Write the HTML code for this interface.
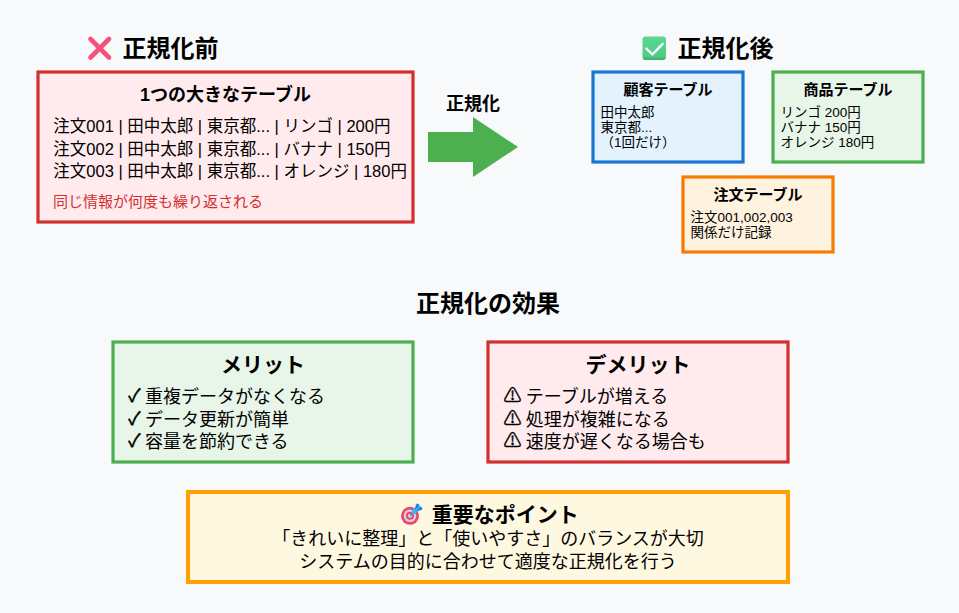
<!DOCTYPE html>
<html><head><meta charset="utf-8">
<style>
html,body{margin:0;padding:0;background:#f8f9fa;}
body{width:959px;height:613px;overflow:hidden;}
svg{display:block;font-family:"Liberation Sans","Noto Sans CJK JP",sans-serif;}
.b{font-weight:bold;}
</style></head><body>
<svg width="959" height="613" viewBox="0 0 959 613">
<rect x="0" y="0" width="959" height="613" fill="#f8f9fa"/>

<!-- X icon -->
<g stroke="#f3527e" stroke-width="4.6" stroke-linecap="round">
<line x1="90.5" y1="39" x2="109" y2="57.5"/>
<line x1="109" y1="39" x2="90.5" y2="57.5"/>
</g>
<text x="122.5" y="57" font-size="24" class="b">正規化前</text>

<!-- check icon -->
<defs><linearGradient id="gck" x1="0" y1="0" x2="0" y2="1"><stop offset="0" stop-color="#5ad892"/><stop offset="0.85" stop-color="#4fcc84"/><stop offset="1" stop-color="#3aa86a"/></linearGradient>
<linearGradient id="gx" x1="0" y1="0" x2="1" y2="1"><stop offset="0" stop-color="#f0508a"/><stop offset="1" stop-color="#f45a78"/></linearGradient></defs>
<rect x="642.5" y="36.5" width="23.5" height="23.5" rx="3" fill="url(#gck)"/>
<path d="M646.4,48.6 L652.4,54.4 L662.7,43.8" fill="none" stroke="#fdf3ff" stroke-width="2.4" stroke-linecap="round" stroke-linejoin="round"/>
<text x="677.4" y="57" font-size="24" class="b">正規化後</text>

<!-- before box -->
<rect x="38" y="72" width="375" height="150" fill="#ffebee" stroke="#d32f2f" stroke-width="3.2"/>
<text x="225.5" y="101" font-size="18" class="b" text-anchor="middle">1つの大きなテーブル</text>
<text x="53.3" y="132.3" font-size="16.5">注文001 | 田中太郎 | 東京都... | リンゴ | 200円</text>
<text x="53.3" y="154.8" font-size="16.5">注文002 | 田中太郎 | 東京都... | バナナ | 150円</text>
<text x="53.3" y="177.3" font-size="16.5">注文003 | 田中太郎 | 東京都... | オレンジ | 180円</text>
<text x="53.1" y="207" font-size="15" fill="#d32f2f">同じ情報が何度も繰り返される</text>

<!-- arrow -->
<text x="445.9" y="110" font-size="18" class="b">正規化</text>
<path d="M428,132 L473,132 L473,117 L518,147 L473,177 L473,162 L428,162 Z" fill="#4caf50"/>

<!-- after boxes -->
<rect x="593" y="72" width="150" height="90" fill="#e3f2fd" stroke="#1976d2" stroke-width="3.2"/>
<text x="668" y="95" font-size="15" class="b" text-anchor="middle">顧客テーブル</text>
<text x="600.6" y="117" font-size="13.5">田中太郎</text>
<text x="600.6" y="132" font-size="13.5">東京都...</text>
<text x="600.6" y="147" font-size="13.5">（1回だけ）</text>

<rect x="773" y="72" width="150" height="90" fill="#e8f5e9" stroke="#4caf50" stroke-width="3.2"/>
<text x="848" y="95" font-size="15" class="b" text-anchor="middle">商品テーブル</text>
<text x="780.6" y="117" font-size="13.5">リンゴ 200円</text>
<text x="780.6" y="132" font-size="13.5">バナナ 150円</text>
<text x="780.6" y="147" font-size="13.5">オレンジ 180円</text>

<rect x="683" y="177" width="150" height="75" fill="#fff3e0" stroke="#f57c00" stroke-width="3.2"/>
<text x="758" y="200" font-size="15" class="b" text-anchor="middle">注文テーブル</text>
<text x="690.6" y="222.3" font-size="13.5">注文001,002,003</text>
<text x="690.6" y="237" font-size="13.5">関係だけ記録</text>

<!-- effects -->
<text x="488" y="312" font-size="24" class="b" text-anchor="middle">正規化の効果</text>

<rect x="113" y="342" width="300" height="120" fill="#e8f5e9" stroke="#4caf50" stroke-width="3.2"/>
<text x="263" y="372" font-size="21" class="b" text-anchor="middle">メリット</text>
<text x="128.2" y="401.8" font-size="18" stroke="#000" stroke-width="0.5">✓</text><text x="144.9" y="402.5" font-size="18">重複データがなくなる</text>
<text x="128.2" y="424.8" font-size="18" stroke="#000" stroke-width="0.5">✓</text><text x="144.9" y="425.5" font-size="18">データ更新が簡単</text>
<text x="128.2" y="447.3" font-size="18" stroke="#000" stroke-width="0.5">✓</text><text x="144.9" y="448" font-size="18">容量を節約できる</text>

<rect x="488" y="342" width="300" height="120" fill="#ffebee" stroke="#d32f2f" stroke-width="3.2"/>
<text x="638" y="372" font-size="21" class="b" text-anchor="middle">デメリット</text>
<text x="503.4" y="401.5" font-size="18" stroke="#000" stroke-width="0.35">⚠</text><text x="525.8" y="402.5" font-size="18">テーブルが増える</text>
<text x="503.4" y="424.5" font-size="18" stroke="#000" stroke-width="0.35">⚠</text><text x="525.8" y="425.5" font-size="18">処理が複雑になる</text>
<text x="503.4" y="447" font-size="18" stroke="#000" stroke-width="0.35">⚠</text><text x="525.8" y="448" font-size="18">速度が遅くなる場合も</text>

<rect x="188" y="492" width="600" height="90" fill="#fff8e1" stroke="#ffa000" stroke-width="4"/>
<!-- target icon -->
<g>
<circle cx="410" cy="515.8" r="9" fill="#e9466e"/>
<circle cx="410" cy="515.8" r="6.3" fill="#d8d0e6"/>
<circle cx="410" cy="515.8" r="4" fill="#e9466e"/>
<circle cx="410" cy="515.8" r="2.1" fill="#d8d0e6"/>
<path d="M410.3,515.5 L413,512.8" stroke="#6f6a78" stroke-width="1.3"/>
<ellipse cx="415.4" cy="510.6" rx="4.8" ry="2.5" transform="rotate(-45 415.4 510.6)" fill="#3fb2f2"/>
<path d="M414.8,509.6 L416,504.6 Q417.4,502.8 418.8,504.3 L420.2,507.6 Z" fill="#2b86e3"/>
<path d="M416.6,511.4 L421.6,510 Q423.3,508.7 421.8,507.3 L418.6,505.9 Z" fill="#2b86e3"/>
<path d="M415.8,510.2 L420.4,505.6" stroke="#5cc6f8" stroke-width="1"/>
</g>
<text x="431.8" y="522" font-size="21" class="b">重要なポイント</text>
<text x="488" y="545" font-size="18" text-anchor="middle">「きれいに整理」と「使いやすさ」のバランスが大切</text>
<text x="488" y="567.5" font-size="18" text-anchor="middle">システムの目的に合わせて適度な正規化を行う</text>
</svg>
</body></html>
